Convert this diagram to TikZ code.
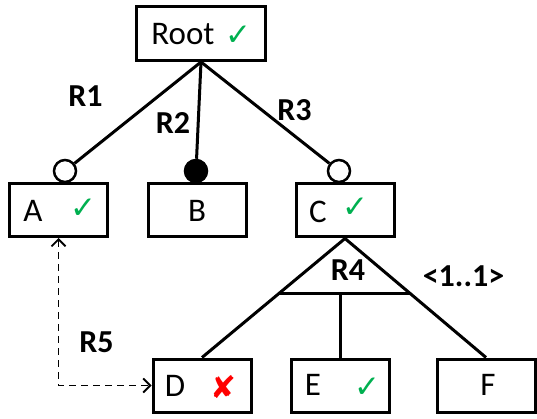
\documentclass[tikz,border=0pt]{standalone}
\usepackage{fontspec}
\setmainfont{Carlito}
\newfontfamily\symfont{DejaVu Sans}
\usetikzlibrary{arrows.meta,calc}
\definecolor{okgreen}{RGB}{0,176,80}
\newcommand{\okmark}{{\symfont\textcolor{okgreen}{\char"2713}}}
\newcommand{\badmark}{{\symfont\textcolor{red}{\char"2718}}}

\begin{document}
\begin{tikzpicture}[x=1pt,y=-1pt,
  feat/.style={draw,line width=3pt,minimum width=98pt,minimum height=53pt,inner sep=0pt},
  ftxt/.style={inner sep=0pt,font=\fontsize{33}{38}\selectfont},
  fmark/.style={inner sep=0pt,font=\fontsize{31}{36}\selectfont},
  rel/.style={inner sep=0pt,font=\fontsize{32}{38}\selectfont\bfseries},
  link/.style={line width=3pt},
  opt/.style={draw,circle,line width=2.5pt,fill=white,minimum size=22pt,inner sep=0pt},
  mand/.style={opt,fill=black},
  req/.style={line width=1.8pt,dash pattern=on 7pt off 5pt,{Straight Barb[length=7pt,width=14pt]}-{Straight Barb[length=7pt,width=14pt]}}]
\useasboundingbox (0,0) rectangle (537,419);

% features
\node [feat,minimum width=129pt,minimum height=54pt] (root) at (201,33.5) {};
\node [feat] (a) at (58.5,210) {};
\node [feat] (b) at (197.5,210) {};
\node [feat] (c) at (345,210.5) {};
\node [feat] (d) at (202,385.5) {};
\node [feat] (e) at (340.5,385.5) {};
\node [feat] (f) at (486,385.5) {};

\node [ftxt] (roottxt) at (183,34) {Root};
\node [fmark] (rootok) at (238,36) {\okmark};
\node [ftxt] (atxt) at (33,211) {A};
\node [fmark] (aok) at (83,209) {\okmark};
\node [ftxt] (btxt) at (197,211) {B};
\node [ftxt] (ctxt) at (318,211.5) {C};
\node [fmark] (cok) at (355,208) {\okmark};
\node [ftxt] (dtxt) at (175,386) {D};
\node [fmark] (dbad) at (223,387) {\badmark};
\node [ftxt] (etxt) at (313,385) {E};
\node [fmark] (eok) at (367,388) {\okmark};
\node [ftxt] (ftxt) at (488,385) {F};

% optional / mandatory ends
\node [opt] (oa) at (65,171) {};
\node [mand] (ob) at (196,171) {};
\node [opt] (oc) at (339,171) {};
\draw [link] (root.south) -- (oa);
\draw [link] (root.south) -- (ob);
\draw [link] (root.south) -- (oc);

% alternative group
\coordinate (bl) at ($(c.south)!0.459!(d.north)$);
\coordinate (br) at ($(c.south)!0.459!(f.north)$);
\draw [link] (d.north) -- (c.south) -- (f.north);
\draw [link] (bl) -- (br);
\draw [link] (e.north) -- (e.north |- bl);

% requires
\draw [req] (a.south) |- (d.west);

% relation names
\node [rel] (r1) at (85.5,96.5) {R1};
\node [rel] (r2) at (173,123) {R2};
\node [rel] (r3) at (294.5,110.5) {R3};
\node [rel] (r4) at (348,270.5) {R4};
\node [rel] (card) at (463.5,276) {\textless1..1\textgreater};
\node [rel] (r5) at (96.5,342.5) {R5};
\end{tikzpicture}
\end{document}
